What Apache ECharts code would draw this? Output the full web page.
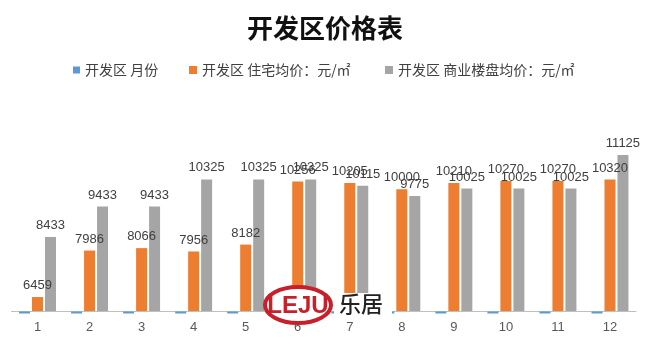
<!DOCTYPE html>
<html>
<head>
<meta charset="utf-8">
<script src="https://cdn.jsdelivr.net/npm/echarts@6/dist/echarts.min.js"></script>
<style>html,body{margin:0;padding:0;background:#fff}#c{width:650px;height:348px}</style>
</head>
<body>
<div id="c"></div>
<script>
const categories = ['1','2','3','4','5','6','7','8','9','10','11','12'];
const monthValues = [1,2,3,4,5,6,7,8,9,10,11,12];
const residentialValues = [6459,7986,8066,7956,8182,10256,10205,10000,10210,10270,10270,10320];
const commercialValues = [8433,9433,9433,10325,10325,10325,10115,9775,10025,10025,10025,11125];
const seriesNames = ['开发区 月份','开发区 住宅均价：元/㎡','开发区 商业楼盘均价：元/㎡'];

const chart = echarts.init(document.getElementById('c'));
const labelStyle = {show:true, position:'top', distance:5, color:'#404040', fontSize:13, fontFamily:'Liberation Sans, Arial, sans-serif'};
const legendText = {fontSize:14, color:'#404040', fontFamily:'Noto Sans CJK SC'};
const gridLeft = 11.5, gridRight = 14;
chart.setOption({
  backgroundColor:'#fff',
  animation:false,
  title:{text:'开发区价格表', left:'center', top:10, textStyle:{fontSize:26, fontWeight:'bold', color:'#111', fontFamily:'Noto Sans CJK SC'}},
  legend:[
    {data:[seriesNames[0]], left:68, top:58, itemWidth:7, itemHeight:7, icon:'rect', textStyle:legendText},
    {data:[seriesNames[1]], left:184, top:58, itemWidth:8, itemHeight:8, icon:'rect', textStyle:legendText},
    {data:[seriesNames[2]], left:380, top:58, itemWidth:8, itemHeight:8, icon:'rect', textStyle:legendText}
  ],
  grid:[
    {left:gridLeft, right:gridRight, top:128.4, height:182.6},
    {left:gridLeft, right:gridRight, top:311.5, height:2}
  ],
  xAxis:[
    {type:'category', data:categories, gridIndex:0, axisTick:{show:false},
     axisLine:{lineStyle:{color:'#BFBFBF', width:1}},
     axisLabel:{margin:10, color:'#595959', fontSize:13, fontFamily:'Liberation Sans, Arial, sans-serif'}},
    {type:'category', data:categories, gridIndex:1, show:false}
  ],
  yAxis:[
    {type:'value', gridIndex:0, min:6000, max:12000, show:false, splitLine:{show:false}},
    {type:'value', gridIndex:1, min:0, max:1, inverse:true, show:false, splitLine:{show:false}}
  ],
  series:[
    {name:seriesNames[0], type:'bar', xAxisIndex:1, yAxisIndex:1, data:monthValues, barWidth:11, barGap:'18%', itemStyle:{color:'#5B9BD5'}},
    {name:'_slot_b', type:'bar', xAxisIndex:1, yAxisIndex:1, data:[], barWidth:11, barGap:'18%'},
    {name:'_slot_c', type:'bar', xAxisIndex:1, yAxisIndex:1, data:[], barWidth:11, barGap:'18%'},
    {name:'_slot_a', type:'bar', xAxisIndex:0, yAxisIndex:0, data:[], barWidth:11, barGap:'18%'},
    {name:seriesNames[1], type:'bar', xAxisIndex:0, yAxisIndex:0, data:residentialValues, barWidth:11, barGap:'18%', itemStyle:{color:'#ED7D31'}, label:labelStyle},
    {name:seriesNames[2], type:'bar', xAxisIndex:0, yAxisIndex:0, data:commercialValues, barWidth:11, barGap:'18%', itemStyle:{color:'#A5A5A5'}, label:labelStyle}
  ],
  graphic:[
    {type:'rect', shape:{x:334, y:293, width:58, height:24}, style:{fill:'#fff'}, z:100},
    {type:'ellipse', shape:{cx:298, cy:305, rx:33, ry:18}, style:{fill:'#fff', stroke:'#C8202A', lineWidth:4}, z:101},
    {type:'text', x:298, y:306, style:{text:'LEJU', fill:'#C8202A', font:'bold 24px "Liberation Sans Narrow", "Liberation Sans", sans-serif', align:'center', verticalAlign:'middle'}, z:102},
    {type:'text', x:339, y:304, style:{text:'乐居', fill:'#222', font:'500 22px "Noto Sans CJK SC"', align:'left', verticalAlign:'middle'}, z:102}
  ]
});
</script>
</body>
</html>
